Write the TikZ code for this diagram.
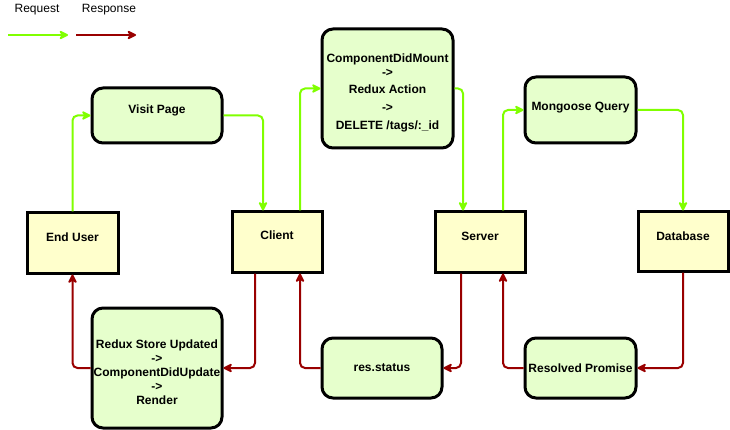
\documentclass[tikz,border=0pt]{standalone}
\usepackage{fontspec}
\setmainfont{Liberation Sans}
\usetikzlibrary{arrows.meta}
\definecolor{gfill}{HTML}{E6FFCC}
\definecolor{yfill}{HTML}{FFFFCC}
\definecolor{reqc}{HTML}{80FF00}
\definecolor{resc}{HTML}{990000}
\tikzset{
  box/.style={draw=black, line width=3pt, inner sep=0pt},
  gbox/.style={box, fill=gfill, rounded corners=11pt},
  ybox/.style={box, fill=yfill},
  lbl/.style={font=\fontsize{12}{14}\selectfont\bfseries, align=center, inner sep=0pt},
  req/.style={draw=reqc, line width=2pt, rounded corners=5pt, -{Stealth[length=11pt,width=11pt,inset=3.5pt,round]}},
  res/.style={draw=resc, line width=2pt, rounded corners=5pt, -{Stealth[length=11pt,width=11pt,inset=3.5pt,round]}},
  legtext/.style={font=\fontsize{12}{14}\selectfont, inner sep=0pt}
}
\begin{document}
\begin{tikzpicture}[x=1pt,y=-1pt]
\useasboundingbox (0,0) rectangle (730,430);
% legend
\node[legtext] (lreq) at (37,10) {Request};
\node[legtext] (lres) at (109,10) {Response};
\coordinate (lq1) at (8,35); \coordinate (lq2) at (68,35);
\coordinate (lr1) at (76,35); \coordinate (lr2) at (136,35);
\draw[req] (lq1) -- (lq2);
\draw[res] (lr1) -- (lr2);
% nodes
\node[gbox, minimum width=130, minimum height=55, label={[lbl,yshift=5.5pt]center:Visit Page}] (vp) at (157,115.5) {};
\node[ybox, minimum width=91, minimum height=60, label={[lbl,yshift=6pt]center:End User}] (eu) at (72.5,243) {};
\node[ybox, minimum width=90, minimum height=60, label={[lbl,yshift=7pt]center:Client}] (cl) at (277,242) {};
\node[ybox, minimum width=90, minimum height=60, label={[lbl,yshift=6pt]center:Server}] (sv) at (480,242) {};
\node[ybox, minimum width=90, minimum height=59, label={[lbl,yshift=5.5pt]center:Database}] (db) at (683,241.5) {};
\node[gbox, minimum width=131, minimum height=119, label={[lbl,yshift=-4pt]center:ComponentDidMount\\->\\[3pt]Redux Action\\[4pt]->\\[4pt]DELETE /tags/:\_id}] (cdm) at (387.5,88.5) {};
\node[gbox, minimum width=111, minimum height=66, label={[lbl,yshift=2pt]center:Mongoose Query}] (mq) at (580.5,110) {};
\node[gbox, minimum width=130, minimum height=120, label={[lbl,yshift=-4.5pt]center:Redux Store Updated\\->\\ComponentDidUpdate\\->\\Render}] (rs) at (157,368) {};
\node[gbox, minimum width=120, minimum height=60, label={[lbl]center:res.status}] (st) at (382,368) {};
\node[gbox, minimum width=111, minimum height=60, label={[lbl]center:Resolved Promise}] (rp) at (580.5,368) {};
% request connectors
\draw[req] (eu.north) |- (vp.west);
\draw[req] (vp.east) -| ([xshift=-14pt]cl.north);
\draw[req] ([xshift=23pt]cl.north) |- (cdm.west);
\draw[req] (cdm.east) -| ([xshift=-17pt]sv.north);
\draw[req] ([xshift=23pt]sv.north) |- (mq.west);
\draw[req] (mq.east) -| (db.north);
% response connectors
\draw[res] (db.south) |- (rp.east);
\draw[res] (rp.west) -| ([xshift=23pt]sv.south);
\draw[res] ([xshift=-19pt]sv.south) |- (st.east);
\draw[res] (st.west) -| ([xshift=23pt]cl.south);
\draw[res] ([xshift=-22pt]cl.south) |- (rs.east);
\draw[res] (rs.west) -| (eu.south);
\end{tikzpicture}
\end{document}
